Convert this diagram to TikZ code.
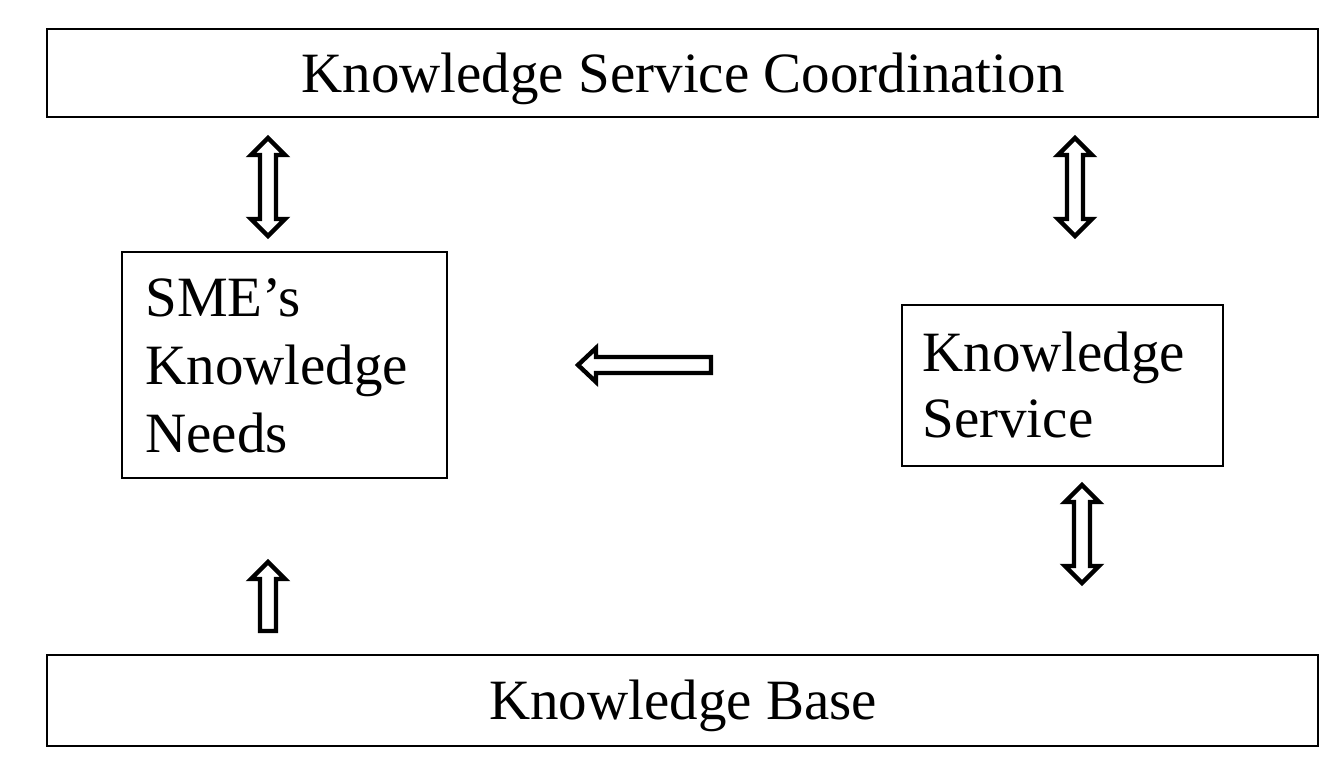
\documentclass[tikz,border=0pt]{standalone}
\usepackage{fontspec}
\setmainfont{Liberation Serif}
\begin{document}
\begin{tikzpicture}[x=0.5pt,y=-0.5pt,
  boxline/.style={draw=black,line width=1.3pt},
  blockarrow/.style={draw=black,line width=2.2pt,fill=white,line join=miter},
  lbl/.style={inner sep=0pt,anchor=base west,font=\fontsize{28.5pt}{34pt}\selectfont},
  clbl/.style={inner sep=0pt,anchor=base,font=\fontsize{28.5pt}{34pt}\selectfont}]
\useasboundingbox (0,0) rectangle (1344,767);
\fill[white] (0,0) rectangle (1344,767);
% boxes
\draw[boxline] (47,29) rectangle (1318,117);
\node[clbl] (toptext) at (683,92) {Knowledge Service Coordination};
\draw[boxline] (122,252) rectangle (447,478);
\node[lbl] (sme1) at (145,316) {SME’s};
\node[lbl] (sme2) at (145,384) {Knowledge};
\node[lbl] (sme3) at (145,452) {Needs};
\draw[boxline] (902,305) rectangle (1223,466);
\node[lbl] (ks1) at (922,371) {Knowledge};
\node[lbl] (ks2) at (922,437) {Service};
\draw[boxline] (47,655) rectangle (1318,746);
\node[clbl] (bottext) at (683,719) {Knowledge Base};
% vertical double arrows
\newcommand\vdblarrow[3]{%
  \draw[blockarrow] (#1,#2) -- ++(17,17) -- ++(-9,0) -- (#1+8,#3-17) -- ++(9,0)
    -- (#1,#3) -- ++(-17,-17) -- ++(9,0) -- (#1-8,#2+17) -- ++(-9,0) -- cycle;}
\vdblarrow{268}{138}{236}
\vdblarrow{1075}{138}{236}
\vdblarrow{1082}{485}{583}
% up arrow
\draw[blockarrow] (268,562) -- (285,579) -- (276,579) -- (276,631) -- (260,631)
  -- (260,579) -- (251,579) -- cycle;
% left arrow
\draw[blockarrow] (578,365) -- (596,348) -- (596,357) -- (711,357) -- (711,373)
  -- (596,373) -- (596,382) -- cycle;
\end{tikzpicture}
\end{document}
